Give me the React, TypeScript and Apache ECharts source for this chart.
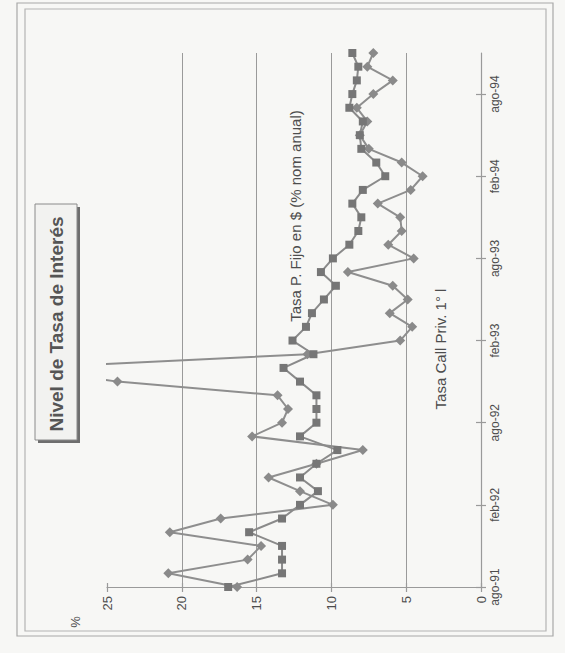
import { useEffect, useRef } from "react";
import * as echarts from "echarts";

// Monthly categories, Aug-1991 .. Nov-1994
const months = [
  "ago-91", "sep-91", "oct-91", "nov-91", "dic-91",
  "ene-92", "feb-92", "mar-92", "abr-92", "may-92", "jun-92", "jul-92",
  "ago-92", "sep-92", "oct-92", "nov-92", "dic-92",
  "ene-93", "feb-93", "mar-93", "abr-93", "may-93", "jun-93", "jul-93",
  "ago-93", "sep-93", "oct-93", "nov-93", "dic-93",
  "ene-94", "feb-94", "mar-94", "abr-94", "may-94", "jun-94", "jul-94",
  "ago-94", "sep-94", "oct-94", "nov-94",
];

// Fixed-term deposit rate in pesos (% nominal annual)
const tasaPlazoFijo = [
  16.9, 13.3, 13.3, 13.3, 15.5, 13.3, 12.1, 10.9, 12.1, 11.0,
  9.6, 12.1, 11.0, 11.0, 11.0, 12.1, 13.2, 11.2, 12.6, 11.7,
  11.3, 10.5, 9.7, 10.7, 9.9, 8.8, 8.2, 8.0, 8.6, 7.9,
  6.4, 7.0, 8.0, 8.1, 7.9, 8.8, 8.6, 8.3, 8.2, 8.6,
];

// Private call money rate
const tasaCall = [
  16.3, 20.9, 15.6, 14.7, 20.8, 17.4, 9.9, 12.1, 14.2, 11.0,
  7.9, 15.3, 13.3, 12.9, 13.6, 24.3, 30.5, 11.6, 5.4, 4.6,
  6.1, 4.9, 5.9, 8.9, 4.5, 6.2, 5.3, 5.4, 6.9, 4.7,
  3.9, 5.3, 7.5, 8.1, 7.6, 8.3, 7.2, 5.9, 7.6, 7.2,
];

const valueTicks = { min: 0, max: 25, interval: 5 };

const FONT = "'Liberation Sans', Arial, sans-serif";
const INK = "#4d4d4d";
const RULE = "#9a9a9a";

export default function App() {
  const ref = useRef<HTMLDivElement>(null);

  useEffect(() => {
    if (!ref.current) return;
    const chart = echarts.init(ref.current, undefined, { renderer: "svg" });

    const option: echarts.EChartsOption = {
      animation: false,
      backgroundColor: "#f7f7f5",
      grid: { left: 107, right: 84, top: 53, bottom: 66, containLabel: false },
      xAxis: [
        {
          type: "value",
          ...valueTicks,
          inverse: true,
          position: "bottom",
          axisLine: { show: true, onZero: false, lineStyle: { color: RULE, width: 1.2 } },
          axisTick: { show: true, length: 5, lineStyle: { color: RULE, width: 1.2 } },
          axisLabel: { rotate: 90, margin: 9, fontSize: 13, color: INK, fontFamily: FONT },
          splitLine: {
            show: true,
            showMinLine: false,
            showMaxLine: false,
            lineStyle: { color: RULE, width: 1 },
          },
        },
        {
          type: "value",
          ...valueTicks,
          inverse: true,
          position: "bottom",
          axisLine: { show: false },
          axisTick: { show: true, inside: true, length: 4, lineStyle: { color: RULE, width: 1.2 } },
          axisLabel: { show: false },
          splitLine: { show: false },
        },
      ],
      yAxis: [
        {
          type: "category",
          data: months,
          position: "right",
          boundaryGap: false,
          axisLine: { show: true, onZero: false, lineStyle: { color: RULE, width: 1.2 } },
          axisTick: { show: true, interval: 5, length: 5, lineStyle: { color: RULE, width: 1.2 } },
          axisLabel: { interval: 5, rotate: 90, margin: 8, fontSize: 12, color: INK, fontFamily: FONT },
          splitLine: { show: false },
        },
        {
          type: "category",
          data: months,
          position: "right",
          boundaryGap: false,
          axisLine: { show: false },
          axisTick: { show: true, inside: true, interval: 5, length: 5, lineStyle: { color: RULE, width: 1.2 } },
          axisLabel: { show: false },
          splitLine: { show: false },
        },
      ],
      series: [
        {
          name: "Tasa Call Priv. 1° l",
          type: "line",
          data: tasaCall,
          symbol: "diamond",
          symbolSize: 10,
          showAllSymbol: true,
          clip: true,
          lineStyle: { color: "#8e8e8e", width: 2 },
          itemStyle: { color: "#8a8a8a" },
          z: 3,
        },
        {
          name: "Tasa P. Fijo en $ (% nom anual)",
          type: "line",
          data: tasaPlazoFijo,
          symbol: "rect",
          symbolSize: 8,
          showAllSymbol: true,
          clip: true,
          lineStyle: { color: "#8a8a8a", width: 2 },
          itemStyle: { color: "#767676" },
          z: 4,
        },
      ],
      graphic: [
        // double page frame
        {
          type: "rect",
          z: 0,
          shape: { x: 17, y: 3, width: 536, height: 633 },
          style: { fill: "none", stroke: "#a8a8a8", lineWidth: 1.2 },
        },
        {
          type: "rect",
          z: 0,
          shape: { x: 25, y: 9, width: 521, height: 622 },
          style: { fill: "none", stroke: "#b4b4b4", lineWidth: 1.2 },
        },
        // title box with drop shadow
        {
          type: "rect",
          z: 5,
          shape: { x: 38, y: 207, width: 42, height: 236 },
          style: { fill: "#6e6e6e" },
        },
        {
          type: "rect",
          z: 6,
          shape: { x: 35, y: 204, width: 42, height: 236 },
          style: { fill: "#f2f2f0", stroke: "#8a8a8a", lineWidth: 1 },
        },
        {
          type: "text",
          z: 7,
          x: 56,
          y: 324,
          rotation: Math.PI / 2,
          style: {
            text: "Nivel de Tasa de Interés",
            fontSize: 19,
            fontWeight: "bold",
            fontFamily: FONT,
            fill: "#555",
            align: "center",
            verticalAlign: "middle",
          },
        },
        // series annotations
        {
          type: "text",
          z: 7,
          x: 295,
          y: 216,
          rotation: Math.PI / 2,
          style: {
            text: "Tasa P. Fijo en $ (% nom anual)",
            fontSize: 15,
            fontFamily: FONT,
            fill: INK,
            align: "center",
            verticalAlign: "middle",
          },
        },
        {
          type: "text",
          z: 7,
          x: 440,
          y: 349,
          rotation: Math.PI / 2,
          style: {
            text: "Tasa Call Priv. 1° l",
            fontSize: 15,
            fontFamily: FONT,
            fill: INK,
            align: "center",
            verticalAlign: "middle",
          },
        },
        // unit label
        {
          type: "text",
          z: 7,
          x: 75,
          y: 622,
          rotation: Math.PI / 2,
          style: {
            text: "%",
            fontSize: 13,
            fontFamily: FONT,
            fill: INK,
            align: "center",
            verticalAlign: "middle",
          },
        },
      ],
    };

    chart.setOption(option);
    return () => chart.dispose();
  }, []);

  return (
    <div
      ref={ref}
      style={{ position: "fixed", left: 0, top: 0, width: 565, height: 653 }}
    />
  );
}
